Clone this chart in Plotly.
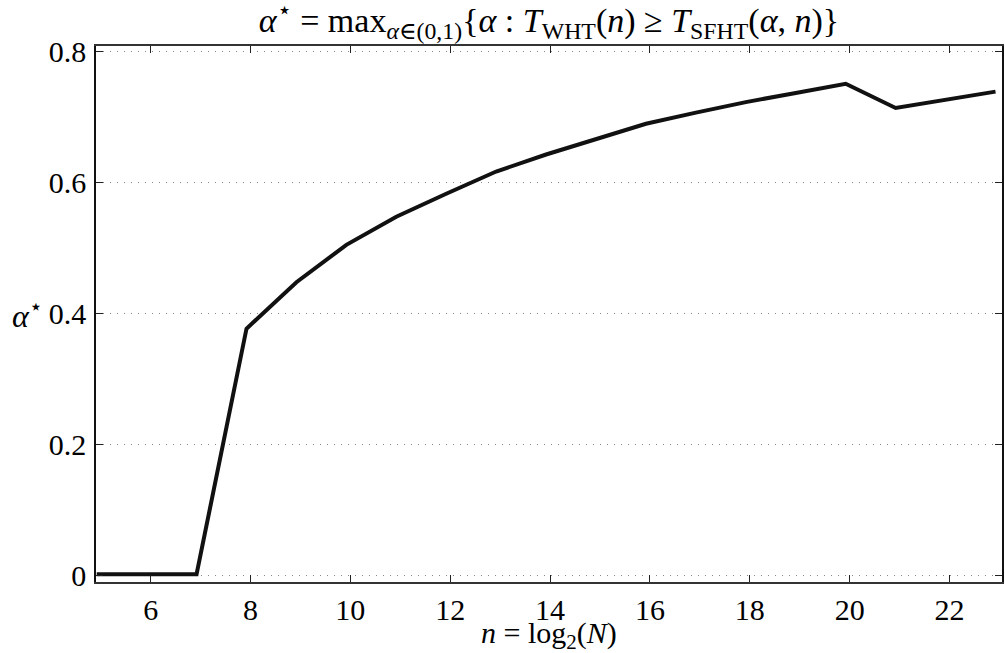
import plotly.graph_objects as go

# n = log2(N) sample positions and the corresponding alpha* values
n_vals = [4.92, 5.92, 6.92, 7.92, 8.92, 9.92, 10.92, 11.92, 12.92, 13.92,
          14.92, 15.92, 16.92, 17.92, 18.92, 19.92, 20.92, 21.92, 22.92]
alpha_star = [0.002, 0.002, 0.002, 0.377, 0.448, 0.505, 0.548, 0.583, 0.617, 0.643,
              0.667, 0.690, 0.707, 0.723, 0.737, 0.751, 0.714, 0.727, 0.739]

x_ticks = [6, 8, 10, 12, 14, 16, 18, 20, 22]
y_ticks = [0, 0.2, 0.4, 0.6, 0.8]
y_tick_text = ["0", "0.2", "0.4", "0.6", "0.8"]

FONT = "'Liberation Serif', 'DejaVu Serif', 'Times New Roman', serif"
H = 653
PLOT_TOP, PLOT_BOTTOM = 46, 582

fig = go.Figure()
fig.add_trace(go.Scatter(
    x=n_vals, y=alpha_star, mode="lines",
    line=dict(color="#111111", width=4),
    showlegend=False, hoverinfo="skip",
))

fig.update_layout(
    width=1005, height=H,
    margin=dict(l=96, r=1, t=PLOT_TOP, b=H - PLOT_BOTTOM),
    paper_bgcolor="white", plot_bgcolor="white",
    font=dict(family=FONT, size=30, color="black"),
    title=dict(
        text="<i>α</i><sup>⋆</sup> = max<sub><i>α</i>∈(0,1)</sub>{<i>α</i> : <i>T</i><sub>WHT</sub>(<i>n</i>) ≥ <i>T</i><sub>SFHT</sub>(<i>α</i>, <i>n</i>)}",
        x=0.5, xanchor="center", xref="paper",
        y=1 - 20 / H, yanchor="middle", yref="container",
        font=dict(family=FONT, size=34),
    ),
)

fig.update_xaxes(
    range=[4.906, 23.05],
    tickmode="array", tickvals=x_ticks,
    ticks="inside", ticklen=7, tickwidth=1, tickcolor="#222",
    showline=True, linecolor="#333", linewidth=2, mirror="allticks",
    showgrid=False, zeroline=False,
    tickfont=dict(family=FONT, size=30),
)
fig.update_yaxes(
    range=[-0.0098, 0.8087],
    tickmode="array", tickvals=y_ticks, ticktext=y_tick_text,
    ticks="inside", ticklen=7, tickwidth=1, tickcolor="#222",
    showline=True, linecolor="#111", linewidth=1.5, mirror="allticks",
    showgrid=True, gridcolor="#888", griddash="1px,6px", gridwidth=1,
    zeroline=False,
    tickfont=dict(family=FONT, size=30),
    ticklabelstandoff=2,
)

# x-axis label below the tick labels
fig.add_annotation(
    text="<i>n</i> = log<sub>2</sub>(<i>N</i>)", xref="paper", yref="paper",
    x=0.5, y=-(635 - PLOT_BOTTOM) / (PLOT_BOTTOM - PLOT_TOP), xanchor="center", yanchor="middle",
    showarrow=False, font=dict(family=FONT, size=30),
)

# horizontal y-axis label
fig.add_annotation(
    text="<i>α</i><sup>⋆</sup>", xref="paper", yref="paper",
    x=-0.056, y=0.5, xanchor="right", yanchor="middle",
    showarrow=False, font=dict(family=FONT, size=32),
)

fig.write_html("out.html")
